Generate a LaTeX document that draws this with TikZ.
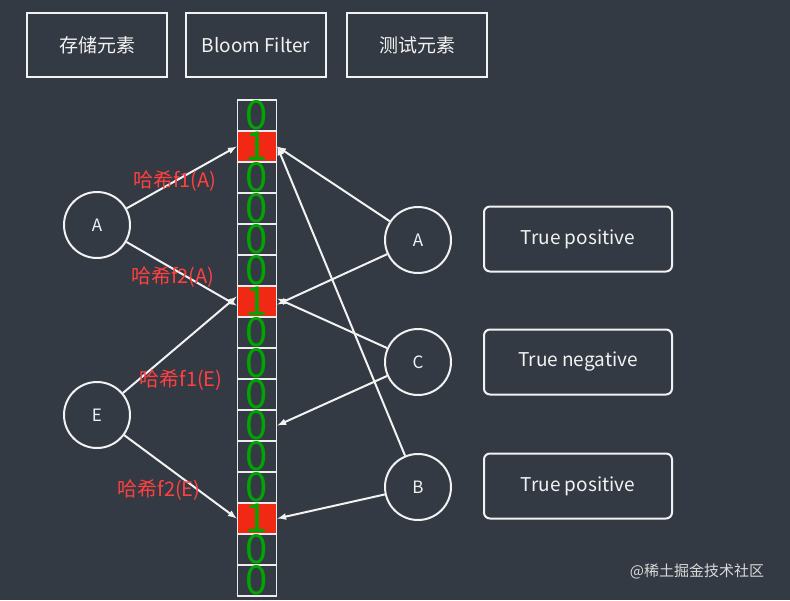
\documentclass[tikz,border=0pt]{standalone}
\usepackage{fontspec}
\setmainfont{Noto Sans CJK SC}
\begin{document}
\begin{tikzpicture}[x=1pt,y=-1pt,
  box/.style={draw=white!90!gray,line width=2pt,minimum width=140pt,minimum height=64pt,text=white!90!gray,font=\fontsize{19}{21}\selectfont},
  rbox/.style={draw=white!90!gray,line width=2pt,rounded corners=6pt,minimum width=188pt,minimum height=65pt,text=white!90!gray,font=\fontsize{19}{21}\selectfont},
  circ/.style={draw=white!90!gray,line width=2pt,circle,minimum size=66pt,text=white!90!gray,font=\fontsize{17}{19}\selectfont},
  cell/.style={draw=white!85!gray,line width=1.5pt,minimum width=39pt,minimum height=31pt,inner sep=0pt,text=green!65!black,font=\fontsize{40}{40}\selectfont},
  arr/.style={draw=white!90!gray,line width=2pt,-latex},
  lab/.style={text=red!75!white,font=\fontsize{20}{22}\selectfont}]
\fill[color={rgb,255:red,52;green,58;blue,68}] (0,0) rectangle (790,600);
\node[box] (b1) at (97,45) {存储元素};
\node[box] (b2) at (256,45) {Bloom Filter};
\node[box] (b3) at (417,45) {测试元素};
\foreach \i/\v in {0/0,1/1,2/0,3/0,4/0,5/0,6/1,7/0,8/0,9/0,10/0,11/0,12/0,13/1,14/0,15/0}{
  \ifnum\v=1
    \node[cell,fill={rgb,255:red,240;green,40;blue,20}] (c\i) at (257,{115.5+31*\i}) {1};
  \else
    \node[cell] (c\i) at (257,{115.5+31*\i}) {0};
  \fi
}
\node[circ] (LA) at (97,225) {A};
\node[circ] (LE) at (97,415) {E};
\node[circ] (RA) at (418,240) {A};
\node[circ] (RC) at (418,362) {C};
\node[circ] (RB) at (418,487) {B};
\node[rbox] (t1) at (578,239) {True positive};
\node[rbox] (t2) at (578,362) {True negative};
\node[rbox] (t3) at (578,486) {True positive};
\draw[arr] (LA) -- (c1.west);
\draw[arr] (LA) -- ([yshift=-4pt]c6.west);
\draw[arr] (LE) -- ([yshift=5pt]c6.west);
\draw[arr] (LE) -- (c13.west);
\draw[arr] (RA) -- (c1.east);
\draw[arr] (RA) -- ([yshift=-3pt]c6.east);
\draw[arr] (RC) -- ([yshift=3pt]c6.east);
\draw[arr] (RC) -- (c10.east);
\draw[arr] (RB) -- (c1.east);
\draw[arr] (RB) -- (c13.east);
\node[lab] (l1) at (175,181) {哈希f1(A)};
\node[lab] (l2) at (173,277) {哈希f2(A)};
\node[lab] (l3) at (181,380) {哈希f1(E)};
\node[lab] (l4) at (159,490) {哈希f2(E)};
\node[text=white!70!gray,font=\fontsize{15}{17}\selectfont] (wm) at (697,571) {@稀土掘金技术社区};
\end{tikzpicture}
\end{document}
